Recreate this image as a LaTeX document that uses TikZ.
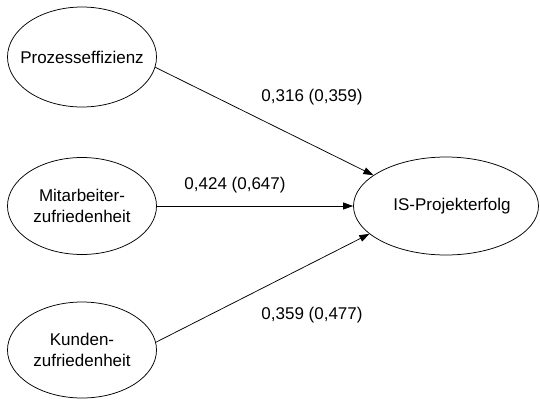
\documentclass[tikz,border=0pt]{standalone}
\usepackage{fontspec}
\setmainfont{Liberation Sans}
\usetikzlibrary{shapes.geometric,arrows.meta}
\tikzset{
  ell/.style={draw,ellipse,line width=0.75pt,inner sep=0pt},
  lbl/.style={font=\fontsize{17}{21}\selectfont,align=center,inner sep=0pt},
  conn/.style={line width=0.75pt,-{Triangle[length=10pt,width=7pt]}}
}
\begin{document}
\begin{tikzpicture}[x=1pt,y=-1pt]
\useasboundingbox[fill=white] (0,0) rectangle (540,399);
\node[ell,minimum width=149pt,minimum height=100pt] (p) at (82,57) {};
\node[ell,minimum width=149pt,minimum height=97pt] (m) at (82,206) {};
\node[ell,minimum width=149pt,minimum height=96pt] (k) at (82,350) {};
\node[ell,minimum width=185pt,minimum height=98pt] (is) at (446,206) {};
\node[lbl] (pt) at (p) {Prozesseffizienz};
\node[lbl] (mt) at (m) {Mitarbeiter-\\zufriedenheit};
\node[lbl] (kt) at (k) {Kunden-\\zufriedenheit};
\node[lbl] (ist) at (452,206) {IS-Projekterfolg};
\draw[conn] (p.-8.6) -- (is.157.8);
\draw[conn] (m.east) -- (is.west);
\draw[conn] (k.6) -- (is.200.9);
\node[lbl] (l1) at (312,97) {0,316 (0,359)};
\node[lbl] (l2) at (235,185) {0,424 (0,647)};
\node[lbl] (l3) at (312,315) {0,359 (0,477)};
\end{tikzpicture}
\end{document}
